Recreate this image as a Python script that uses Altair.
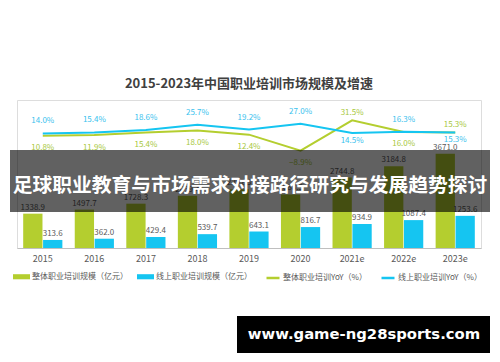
import altair as alt
import pandas as pd

years = ["2015", "2016", "2017", "2018", "2019", "2020", "2021e", "2022e", "2023e"]
total_size = [1338.9, 1497.7, 1728.3, 2039.4, 2292.3, 2088.3, 2744.8, 3184.8, 3671.0]
online_size = [313.6, 362.0, 429.4, 539.7, 643.1, 816.7, 934.9, 1087.4, 1253.6]
total_yoy = [10.8, 11.9, 15.4, 18.0, 12.4, -8.9, 31.5, 16.0, 15.3]
online_yoy = [14.0, 15.4, 18.6, 25.7, 19.2, 27.0, 14.5, 16.3, 15.3]

bar_series = ["整体职业培训规模（亿元）", "线上职业培训规模（亿元）"]
line_series = ["整体职业培训YoY（%）", "线上职业培训YoY（%）"]
title_text = "2015-2023年中国职业培训市场规模及增速"
banner_text = "足球职业教育与市场需求对接路径研究与发展趋势探讨"
watermark_text = "www.game-ng28sports.com"
swapped_years = ["2021e", "2023e"]

FONT = "Noto Sans CJK SC"
GREEN = "#B4CE2F"
BLUE = "#15C5F1"
GREEN_TXT = "#A8C83C"
BLUE_TXT = "#3AC2EE"
GREY = "#595959"

bars_df = pd.DataFrame({
    "year": years * 2,
    "series": [bar_series[0]] * len(years) + [bar_series[1]] * len(years),
    "value": total_size + online_size,
})
lines_df = pd.DataFrame({
    "year": years * 2,
    "series": [line_series[0]] * len(years) + [line_series[1]] * len(years),
    "value": total_yoy + online_yoy,
})

xenc = alt.X(
    "year:N", sort=years,
    scale=alt.Scale(paddingInner=0.24, paddingOuter=0.12),
    axis=alt.Axis(title=None, labelAngle=0, ticks=False, grid=False,
                  domainColor="#BFBFBF", labelColor=GREY, labelFontSize=9,
                  labelFont=FONT, labelPadding=6),
)
ybar = alt.Y("value:Q", scale=alt.Scale(domain=[0, 5770], nice=False, zero=True), axis=None)
yline = alt.Y("value:Q", scale=alt.Scale(domain=[-138.3, 58.5], nice=False, zero=False), axis=None)
xoff = alt.XOffset("series:N", sort=bar_series, scale=alt.Scale(paddingInner=0.03))

bars = alt.Chart(bars_df).mark_bar().encode(
    x=xenc, xOffset=xoff, y=ybar,
    color=alt.Color("series:N", sort=bar_series,
                    scale=alt.Scale(domain=bar_series, range=[GREEN, BLUE]),
                    legend=alt.Legend(title=None, orient="none", legendX=-4, legendY=168,
                                      direction="horizontal", columns=2,
                                      symbolType="M-1,-0.3H1V0.3H-1Z", symbolSize=289,
                                      symbolStrokeWidth=0, labelFont=FONT, labelFontSize=8,
                                      labelColor=GREY, labelOffset=2, columnPadding=9,
                                      padding=0)),
)
bar_labels = alt.Chart(bars_df).mark_text(
    font=FONT, fontSize=8, color=GREY, baseline="bottom", dy=-2
).encode(x=xenc, xOffset=xoff, y=ybar, text=alt.Text("value:Q", format=".1f"))

lines = alt.Chart(lines_df).mark_line(strokeWidth=2).encode(
    x=xenc, y=yline,
    color=alt.Color("series:N", sort=line_series,
                    scale=alt.Scale(domain=line_series, range=[GREEN, BLUE]),
                    legend=alt.Legend(title=None, orient="none", legendX=248, legendY=170,
                                      direction="horizontal", columns=2,
                                      symbolType="stroke", symbolSize=169,
                                      symbolStrokeWidth=2.5, labelFont=FONT, labelFontSize=8,
                                      labelColor=GREY, labelOffset=2, columnPadding=9,
                                      padding=0)),
)

def yoy_labels(series, color, dy, swapped):
    cond = alt.FieldOneOfPredicate(field="year", oneOf=swapped_years)
    base = alt.Chart(lines_df).transform_filter(alt.datum.series == series)
    base = base.transform_filter(cond if swapped else ~alt.Predicate(cond))
    return base.transform_calculate(
        lbl="format(datum.value, '.1f') + '%'"
    ).mark_text(font=FONT, fontSize=8, color=color, baseline="middle", dy=dy).encode(
        x=xenc, y=yline, text="lbl:N")

lab_g1 = yoy_labels(line_series[0], GREEN_TXT, 12.5, False)
lab_g2 = yoy_labels(line_series[0], GREEN_TXT, -7, True)
lab_b1 = yoy_labels(line_series[1], BLUE_TXT, -12, False)
lab_b2 = yoy_labels(line_series[1], BLUE_TXT, 8, True)

banner_df = pd.DataFrame({"t": [banner_text]})
banner_rect = alt.Chart(banner_df).mark_rect(color="black", opacity=0.62).encode(
    x=alt.value(-7), x2=alt.value(473), y=alt.value(50), y2=alt.value(112))
banner_txt = alt.Chart(banner_df).mark_text(
    font=FONT, fontSize=19.8, fontWeight="bold", color="white", align="center", baseline="middle"
).encode(x=alt.value(233), y=alt.value(86), text="t:N")

wm_df = pd.DataFrame({"t": [watermark_text]})
wm_rect = alt.Chart(wm_df).mark_rect(color="black").encode(
    x=alt.value(220), x2=alt.value(473), y=alt.value(216), y2=alt.value(253))
wm_txt = alt.Chart(wm_df).mark_text(
    font="DejaVu Sans", fontSize=14.8, fontWeight="bold", color="white", align="center", baseline="middle"
).encode(x=alt.value(347), y=alt.value(235), text="t:N")

chart = alt.layer(
    bars, bar_labels, lines, lab_g1, lab_g2, lab_b1, lab_b2,
    banner_rect, banner_txt, wm_rect, wm_txt,
).resolve_scale(y="independent", color="independent").properties(
    width=464, height=148,
    autosize=alt.AutoSizeParams(type="none"),
    padding={"left": 9, "top": 92, "right": 11, "bottom": 106},
    title=alt.TitleParams(text=title_text, font=FONT, fontSize=13, fontWeight="bold",
                          color="#404040", anchor="middle", baseline="middle", offset=3),
).configure_view(stroke=None).configure(background="white")

chart.save("out.html", embed_options={"renderer": "svg", "actions": False})
